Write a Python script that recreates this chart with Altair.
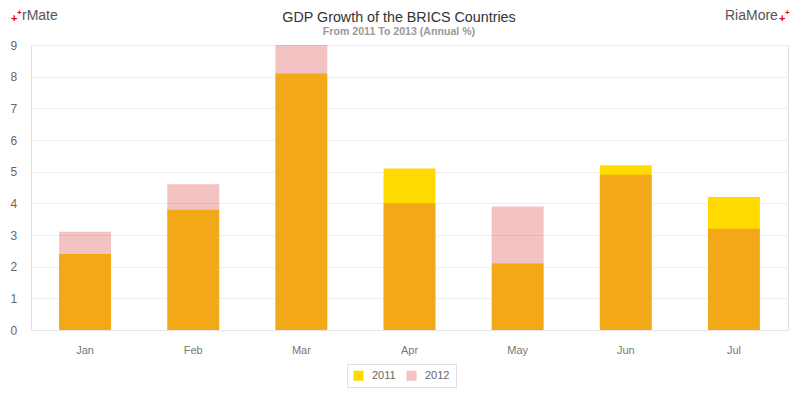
import altair as alt
import pandas as pd

months = ["Jan", "Feb", "Mar", "Apr", "May", "Jun", "Jul"]
gdp_2011 = [2.4, 3.8, 8.1, 5.1, 2.1, 5.2, 4.2]
gdp_2012 = [3.1, 4.6, 9.0, 4.0, 3.9, 4.9, 3.2]
series = ["2011", "2012"]
title_text = "GDP Growth of the BRICS Countries"
subtitle_text = "From 2011 To 2013 (Annual %)"

rows = []
for m, v in zip(months, gdp_2011):
    rows.append({"month": m, "year": "2011", "value": v, "ord": 0})
for m, v in zip(months, gdp_2012):
    rows.append({"month": m, "year": "2012", "value": v, "ord": 1})
df = pd.DataFrame(rows)

FONT = "Liberation Sans"

bars = alt.Chart(df).mark_bar().encode(
    x=alt.X("month:N", sort=months, title=None,
            scale=alt.Scale(paddingInner=0.52, paddingOuter=0.26),
            axis=alt.Axis(labelAngle=0, ticks=False, labelPadding=14,
                          labelColor="#777", labelFontSize=11, labelFont=FONT,
                          domainColor="#e6e6e6", grid=False)),
    y=alt.Y("value:Q", stack=None, title=None,
            scale=alt.Scale(domain=[0, 9], nice=False),
            axis=alt.Axis(values=list(range(10)), ticks=False, domain=False,
                          labelPadding=21, labelAlign="left", labelColor="#666",
                          labelFontSize=12, labelFont=FONT,
                          gridColor="#eeeeee")),
    color=alt.Color("year:N", scale=alt.Scale(domain=series, range=["#FFDA00", "#DC4646"]),
                    title=None,
                    legend=alt.Legend(orient="none", legendX=316, legendY=319,
                                      direction="horizontal",
                                      symbolType="square", symbolSize=100,
                                      symbolStrokeWidth=0,
                                      labelFontSize=11, labelColor="#666", labelFont=FONT,
                                      strokeColor="#e0e0e0", padding=6,
                                      columnPadding=10, labelOffset=8)),
    opacity=alt.Opacity("year:N", scale=alt.Scale(domain=series, range=[1, 0.33]),
                        title=None),
    order=alt.Order("ord:Q"),
)

def txt(s, x, y, size, color, weight="normal", align="left"):
    return alt.Chart(pd.DataFrame({"t": [s]})).mark_text(
        align=align, baseline="alphabetic", fontSize=size, color=color,
        font=FONT, fontWeight=weight
    ).encode(text="t:N", x=alt.value(x), y=alt.value(y))

marks = [
    txt(title_text, 368, -23, 14.3, "#333", align="center"),
    txt(subtitle_text, 368, -10, 10.6, "#999", weight="bold", align="center"),
    txt("+", -20, -23, 11, "#e00000", "bold"),
    txt("+", -14, -30, 8, "#e00000", "bold"),
    txt("rMate", -9, -25, 14, "#555"),
    txt("RiaMore", 694, -25, 14, "#555"),
    txt("+", 748, -23, 11, "#e00000", "bold"),
    txt("+", 754, -30, 8, "#e00000", "bold"),
]

chart = alt.layer(bars, *marks).properties(
    width=757, height=285,
    padding={"left": 23, "top": 37, "right": 4, "bottom": 62},
    autosize=alt.AutoSizeParams(type="none"),
).configure_view(stroke="#eeeeee").configure(background="white")

chart.save("out.html", embed_options={"renderer": "svg", "actions": False})
